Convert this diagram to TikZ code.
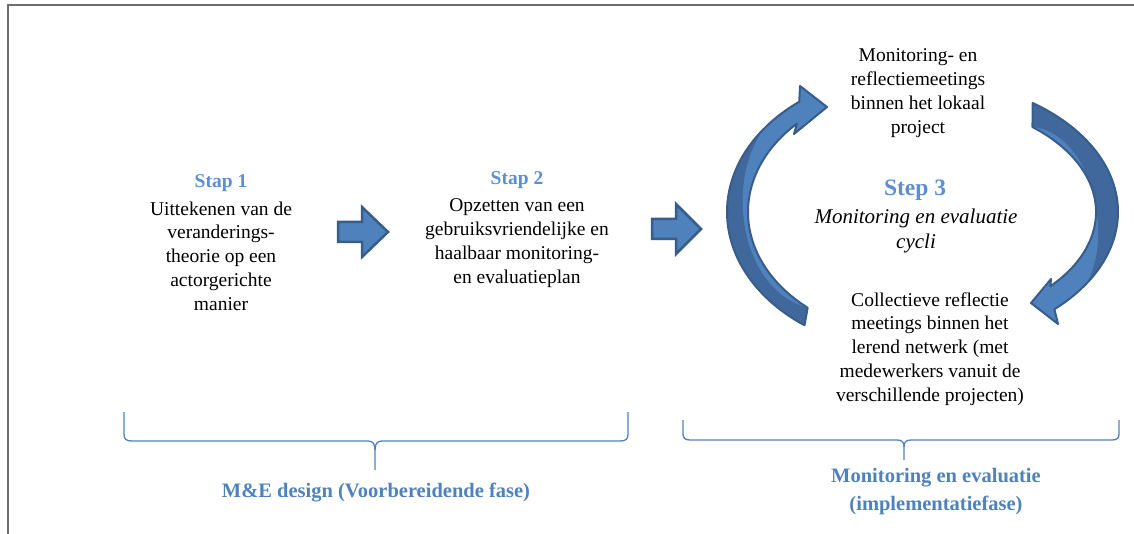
\documentclass[tikz,border=0pt]{standalone}
\usepackage{fontspec}
\setmainfont{Liberation Serif}
\begin{document}
\begin{tikzpicture}[x=1pt,y=-1pt]
\definecolor{arrowfill}{HTML}{4F81BD}
\definecolor{arrowdark}{HTML}{40689C}
\definecolor{arrowline}{HTML}{385D8A}
\definecolor{titleblue}{HTML}{5B8FD0}
\definecolor{phaseblue}{HTML}{4F81BD}
\definecolor{framegray}{HTML}{6E6E6E}
\tikzset{
  body/.style={align=center, inner sep=0pt, text=black,
    font=\fontsize{19.5}{23.8}\selectfont},
  steptitle/.style={inner sep=0pt, text=titleblue,
    font=\fontsize{19.5}{23.8}\selectfont\bfseries},
  bigtitle/.style={inner sep=0pt, text=titleblue,
    font=\fontsize{23.5}{28}\selectfont\bfseries},
  phase/.style={align=center, inner sep=0pt, text=phaseblue,
    font=\fontsize{20.5}{28}\selectfont\bfseries},
  blockarrow/.style={fill=arrowfill, draw=arrowline, line width=2.5pt, line join=miter},
  bracket/.style={draw=phaseblue, line width=1.3pt},
  ringline/.style={draw=arrowline, line width=2pt, line join=round},
  % outline of the left curved arrow (tail at the bottom, head at the top)
  leftring/.style={insert path={
    (804.5,325.3) arc[start angle=126, end angle=232, x radius=188, y radius=140]
    -- (800,86) -- (827,107) -- (794,134) -- (796.9,123.6)
    arc[start angle=225, end angle=130, x radius=167, y radius=125] -- cycle}},
  % lighter face of the left curved arrow
  leftface/.style={insert path={
    (807.7,307.8) .. controls (725,285) and (720,130) .. (799.3,101.7)
    -- (800,86) -- (827,107) -- (794,134) -- (796.9,123.6)
    arc[start angle=225, end angle=130, x radius=167, y radius=125] -- cycle}},
  % outline of the right curved arrow (tail at the top, head at the bottom)
  rightring/.style={insert path={
    (1032.7,103) arc[start angle=-55, end angle=47, x radius=200, y radius=133]
    -- (1058,324) -- (1031,303) -- (1051,279) -- (1050.3,286.3)
    arc[start angle=42, end angle=-50, x radius=178, y radius=111] -- cycle}},
  % lighter face of the right curved arrow
  rightface/.style={insert path={
    (1032.4,127) .. controls (1105,135) and (1125,290) .. (1054.4,309.3)
    -- (1058,324) -- (1031,303) -- (1051,279) -- (1050.3,286.3)
    arc[start angle=42, end angle=-50, x radius=178, y radius=111] -- cycle}}
}
\useasboundingbox (0,0) rectangle (1134,534);

% frame
\draw[framegray, line width=1.5pt] (8,534) -- (8,5) -- (1134,5);

% step texts
\node[steptitle] (s1title) at (221,183) {Stap 1};
\node[body] (s1text) at (221,256) {Uittekenen van de\\veranderings-\\theorie op een\\actorgerichte\\manier};
\node[steptitle] (s2title) at (517,180) {Stap 2};
\node[body] (s2text) at (517,243) {Opzetten van een\\gebruiksvriendelijke en\\haalbaar monitoring-\\en evaluatieplan};

\node[body] (local) at (918,93) {Monitoring- en\\reflectiemeetings\\binnen het lokaal\\project};
\node[bigtitle] (s3title) at (915,190) {Step 3};
\node[body, font=\fontsize{21}{25}\selectfont\itshape] (s3text) at (916,231) {Monitoring en evaluatie\\cycli};
\node[body] (network) at (930,349) {Collectieve reflectie\\meetings binnen het\\lerend netwerk (met\\medewerkers vanuit de\\verschillende projecten)};

% block arrows between the steps
\draw[blockarrow] (338,222) -- (362,222) -- (362,207) -- (388,232) -- (362,257) -- (362,242) -- (338,242) -- cycle;
\draw[blockarrow] (652,219) -- (676,219) -- (676,204) -- (701,229) -- (676,254) -- (676,239) -- (652,239) -- cycle;

% cycle arrows
\fill[arrowdark, leftring];
\begin{scope}
  \clip[leftring];
  \fill[arrowfill, leftface];
\end{scope}
\path[ringline, leftring];

\fill[arrowdark, rightring];
\begin{scope}
  \clip[rightring];
  \fill[arrowfill, rightface];
\end{scope}
\path[ringline, rightring];

% phase brackets
\coordinate (b1tip) at (375,470);
\coordinate (b2tip) at (904,460);
\path[bracket] (124,412) -- (124,434) .. controls (124,439) and (126,441) .. (132,441)
  -- (368,441) .. controls (373,441) and (375,444) .. (375,450) -- (b1tip);
\path[bracket] (375,450) .. controls (375,444) and (377,441) .. (382,441)
  -- (620,441) .. controls (626,441) and (628,439) .. (628,434) -- (628,412);
\path[bracket] (683,420) -- (683,434) .. controls (683,438) and (685,440) .. (690,440)
  -- (897,440) .. controls (902,440) and (904,442) .. (904,447) -- (b2tip);
\path[bracket] (904,447) .. controls (904,442) and (906,440) .. (911,440)
  -- (1112,440) .. controls (1117,440) and (1119,438) .. (1119,434) -- (1119,420);

% phase labels
\node[phase] (ph1) at (376,493) {M\&E design (Voorbereidende fase)};
\node[phase] (ph2) at (936,492) {Monitoring en evaluatie\\(implementatiefase)};
\end{tikzpicture}
\end{document}
